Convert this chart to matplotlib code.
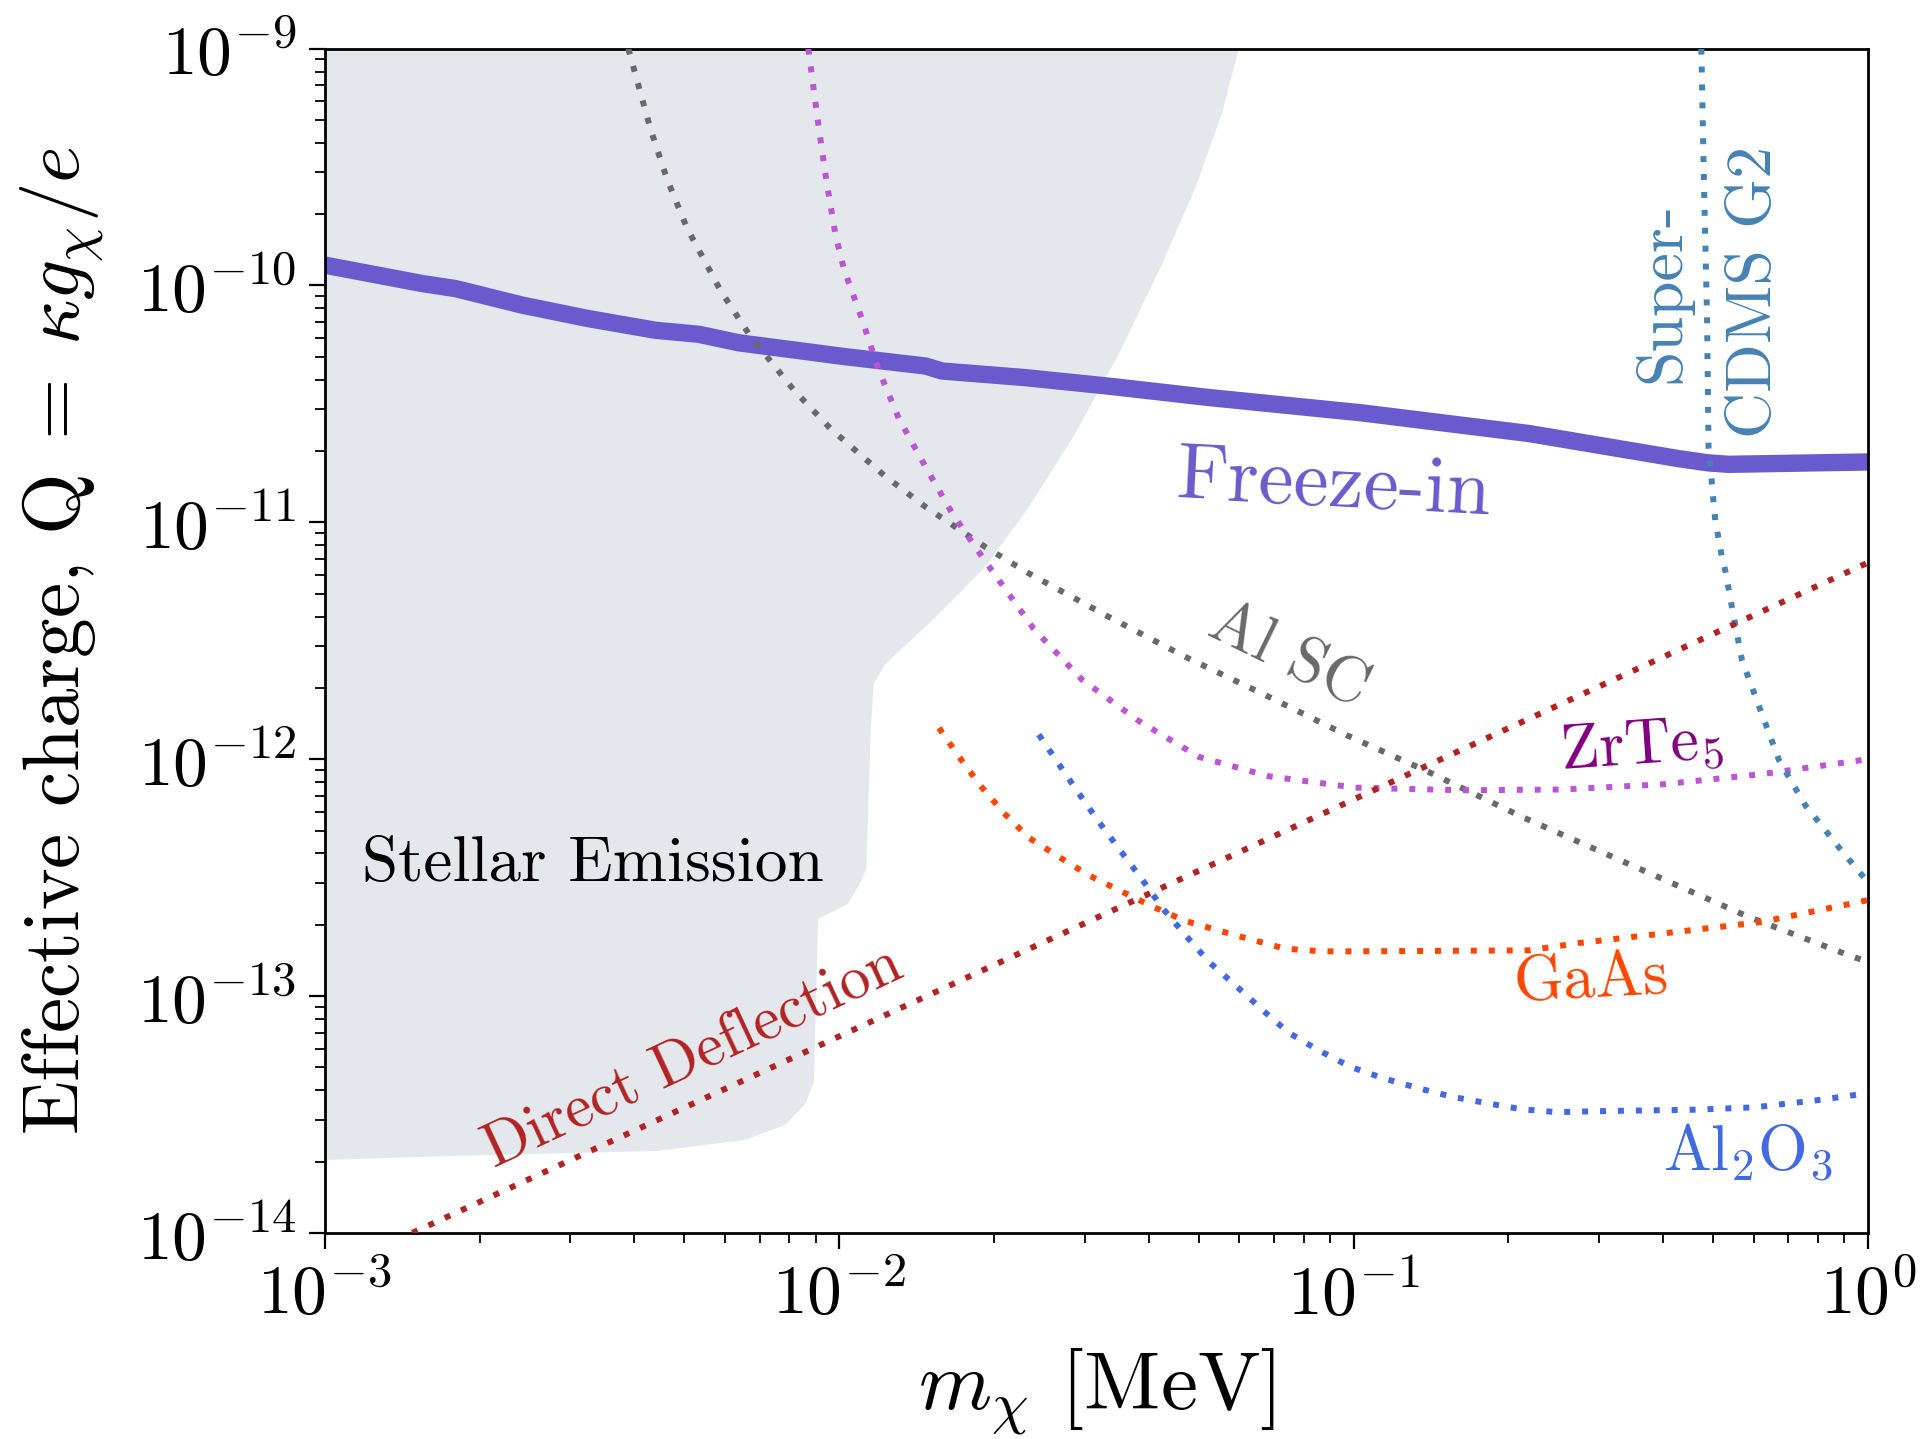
import numpy as np
import matplotlib
matplotlib.use("Agg")
import matplotlib.pyplot as plt

plt.rcParams["font.family"] = "serif"
plt.rcParams["font.serif"] = ["cmr10"]
plt.rcParams["mathtext.fontset"] = "cm"
plt.rcParams["axes.formatter.use_mathtext"] = True

# %% curves, stored as log10(m / MeV) and log10(Q)
freeze_logm = [-3.0, -2.81, -2.746, -2.616, -2.487, -2.357, -2.273, -2.195, -2.085, -1.994,
               -1.832, -1.800, -1.638, -1.476, -1.281, -0.983, -0.659, -0.368, -0.310, -0.271, 0.0]
freeze_logq = [-9.914, -9.992, -10.013, -10.083, -10.140, -10.189, -10.206, -10.242, -10.273, -10.299,
               -10.340, -10.361, -10.389, -10.425, -10.473, -10.538, -10.625, -10.731, -10.749, -10.755, -10.745]

alsc_logm = [-2.41, -2.367, -2.335, -2.296, -2.231, -2.174, -2.088, -2.017, -1.913, -1.832, -1.716,
             -1.631, -1.476, -1.327, -1.171, -1.013, -0.854, -0.672, -0.452, -0.232, -0.037, 0.0]
alsc_logq = [-9.0, -9.338, -9.549, -9.757, -10.020, -10.210, -10.442, -10.604, -10.801, -10.935, -11.104,
             -11.216, -11.399, -11.568, -11.730, -11.899, -12.054, -12.244, -12.455, -12.666, -12.828, -12.856]

zrte5_logm = [-2.06, -2.039, -2.024, -2.007, -1.991, -1.955, -1.923, -1.884, -1.832, -1.780, -1.722,
              -1.622, -1.528, -1.418, -1.301, -1.165, -0.997, -0.789, -0.595, -0.400, -0.206, 0.0]
zrte5_logq = [-9.0, -9.345, -9.570, -9.788, -9.929, -10.147, -10.358, -10.562, -10.766, -10.963, -11.146,
              -11.449, -11.664, -11.838, -11.990, -12.072, -12.120, -12.131, -12.128, -12.106, -12.063, -12.0]

gaas_logm = [-1.806, -1.767, -1.725, -1.680, -1.631, -1.573, -1.515, -1.453, -1.392, -1.327,
             -1.230, -1.133, -1.061, -0.990, -0.659, -0.562, -0.400, -0.206, 0.0]
gaas_logq = [-11.868, -11.990, -12.113, -12.227, -12.332, -12.412, -12.490, -12.556, -12.621, -12.683,
             -12.743, -12.800, -12.811, -12.811, -12.807, -12.776, -12.736, -12.687, -12.595]

al2o3_logm = [-1.612, -1.573, -1.534, -1.495, -1.453, -1.411, -1.372, -1.327, -1.281, -1.230, -1.178, -1.126,
              -1.068, -1.006, -0.942, -0.874, -0.809, -0.741, -0.673, -0.605, -0.501, -0.342, -0.222, -0.1, 0.0]
al2o3_logq = [-11.896, -12.021, -12.145, -12.265, -12.387, -12.508, -12.627, -12.743, -12.856, -12.954, -13.057, -13.155,
              -13.229, -13.299, -13.347, -13.389, -13.425, -13.452, -13.478, -13.490, -13.485, -13.48, -13.47, -13.44, -13.41]

cdms_logm = [-0.324, -0.319, -0.313, -0.310, -0.297, -0.284, -0.277, -0.264, -0.245, -0.209, -0.173, -0.122, -0.057, 0.0]
cdms_logq = [-9.0, -9.556, -10.119, -10.682, -10.991, -11.146, -11.209, -11.364, -11.582, -11.793, -12.004, -12.194, -12.371, -12.52]

deflect_logm = [-2.83, 0.0]
deflect_logq = [-14.0, -11.17]

# edge of the stellar emission region, from the top of the plot down to the left side
stellar_logm = [-1.223, -1.256, -1.307, -1.372, -1.456, -1.541, -1.631, -1.716, -1.826, -1.910, -1.933, -1.939,
                -1.947, -1.957, -1.983, -2.041, -2.049, -2.066, -2.105, -2.185, -2.354, -2.751, -3.0]
stellar_logq = [-9.0, -9.274, -9.584, -9.908, -10.288, -10.625, -10.935, -11.188, -11.428, -11.597, -11.681, -11.892,
                -12.459, -12.514, -12.611, -12.674, -13.363, -13.456, -13.544, -13.608, -13.654, -13.675, -13.692]

xlim = (1e-3, 1e0)
ylim = (1e-14, 1e-9)


def p10(vals):
    return 10.0 ** np.array(vals)


# %% plotting
fig = plt.figure(figsize=(19.23, 14.39), dpi=100)
ax = fig.add_axes([0.1689, 0.1432, 0.8025, 0.823])
ax.set_xscale("log")
ax.set_yscale("log")

poly_m = np.concatenate([p10(stellar_logm), [xlim[0]]])
poly_q = np.concatenate([p10(stellar_logq), [ylim[1]]])
ax.fill(poly_m, poly_q, color="#e4e8ed", lw=0, zorder=0)

ax.plot(p10(freeze_logm), p10(freeze_logq), color="slateblue", lw=12.5, zorder=2, solid_capstyle="butt")

dots = (0, (1, 2.0))
lw_dot = 4.3
ax.plot(p10(alsc_logm), p10(alsc_logq), color="dimgray", lw=lw_dot, ls=dots, zorder=3)
ax.plot(p10(zrte5_logm), p10(zrte5_logq), color="mediumorchid", lw=lw_dot, ls=dots, zorder=3)
ax.plot(p10(gaas_logm), p10(gaas_logq), color="orangered", lw=lw_dot, ls=dots, zorder=3)
ax.plot(p10(al2o3_logm), p10(al2o3_logq), color="royalblue", lw=lw_dot, ls=dots, zorder=3)
ax.plot(p10(cdms_logm), p10(cdms_logq), color="steelblue", lw=lw_dot, ls=dots, zorder=3)
ax.plot(p10(deflect_logm), p10(deflect_logq), color="firebrick", lw=lw_dot, ls=dots, zorder=3)

# labels
ax.text(10**-2.478, 10**-12.445, "Stellar Emission", fontsize=47, ha="center", va="center", color="black")
ax.text(10**-1.038, 10**-10.85, "Freeze-in", fontsize=57, ha="center", va="center",
        color="slateblue", rotation=-3)
ax.text(10**-1.127, 10**-11.565, "Al SC", fontsize=46, ha="center", va="center",
        color="dimgray", rotation=-26)
ax.text(10**-0.441, 10**-11.952, r"ZrTe$_5$", fontsize=46, ha="center", va="center",
        color="purple", rotation=4)
ax.text(10**-0.539, 10**-12.936, "GaAs", fontsize=46, ha="center", va="center",
        color="orangered", rotation=3)
ax.text(10**-0.234, 10**-13.663, r"Al$_2$O$_3$", fontsize=46, ha="center", va="center",
        color="royalblue")
ax.text(10**-2.284, 10**-13.257, "Direct Deflection", fontsize=44, ha="center", va="center",
        color="firebrick", rotation=25)
ax.text(10**-0.310, 10**-10.028, "Super-\nCDMS G2", fontsize=46, ha="center", va="center",
        color="steelblue", rotation=90, multialignment="center", linespacing=1.75)

ax.set_xlim(*xlim)
ax.set_ylim(*ylim)
ax.set_xlabel(r"$m_\chi$ [MeV]", fontsize=60, labelpad=14)
ax.set_ylabel(r"Effective charge, $\mathrm{Q}\;=\;\kappa g_\chi/e$", fontsize=57, labelpad=22)

ax.tick_params(which="major", direction="out", length=11.5, width=1.6, labelsize=50, pad=9)
ax.tick_params(which="minor", direction="out", length=7, width=1.3)
for sp in ax.spines.values():
    sp.set_linewidth(2.0)

fig.savefig("out.png", dpi=100)
